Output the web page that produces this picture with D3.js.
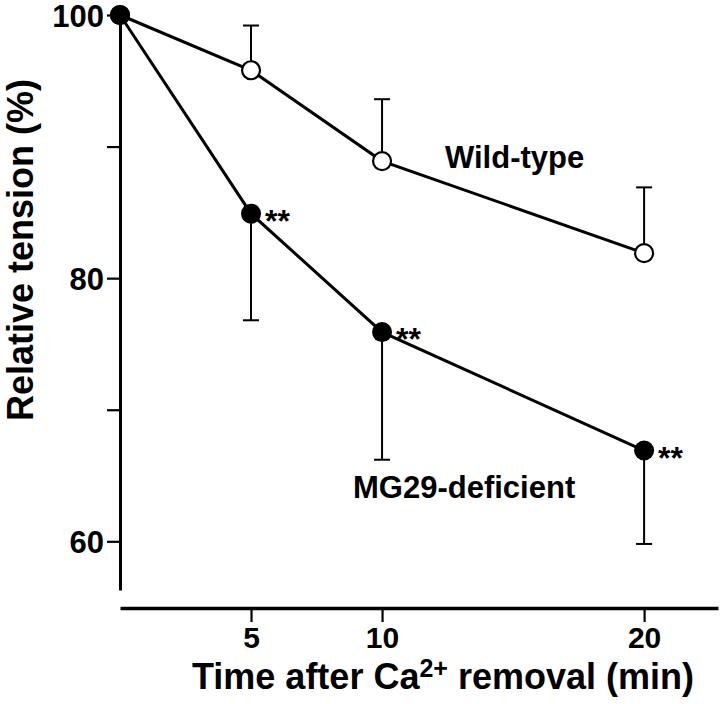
<!DOCTYPE html>
<html><head><meta charset="utf-8">
<script src="https://cdn.jsdelivr.net/npm/d3@7"></script>
<style>body{margin:0;background:#fff}svg{display:block}text{font-family:"Liberation Sans",Arial,Helvetica,sans-serif;font-weight:bold}</style>
</head><body>
<script>
const times = [0, 5, 10, 20];
const wildType = [100, 95.8, 88.9, 81.9];
const wildTypeErrTop = [null, 99.2, 93.6, 86.9];
const mg29 = [100, 84.9, 75.9, 66.9];
const mg29ErrBottom = [null, 76.8, 66.2, 59.8];
const mg29Sig = ["", "**", "**", "**"];
const yTicks = [60, 70, 80, 90, 100];
const yTickLabels = {60: "60", 80: "80", 100: "100"};
const xTicks = [5, 10, 20];

const W = 720, H = 704;
const svg = d3.select("body").append("svg").attr("width", W).attr("height", H);

const x = d3.scaleLinear().domain([0, 22.82]).range([120, 718]);
const y = d3.scaleLinear().domain([100, 56.3]).range([15, 590]);

// y axis
const ya = svg.append("g").attr("transform", "translate(120,0)")
  .call(d3.axisLeft(y).tickValues(yTicks).tickSize(13).tickSizeOuter(0).tickPadding(3)
    .tickFormat(d => yTickLabels[d] || ""));
ya.select(".domain").attr("stroke-width", 3).attr("stroke", "#000");
ya.selectAll(".tick line").attr("stroke-width", 2.2).attr("stroke", "#000");
ya.selectAll(".tick text").attr("font-size", 31).attr("fill", "#000")
  .attr("font-family", '"Liberation Sans",Arial,sans-serif').attr("font-weight", "bold").attr("dy", "0.37em");

// x axis
const xa = svg.append("g").attr("transform", "translate(0,608)")
  .call(d3.axisBottom(x).tickValues(xTicks).tickSize(14).tickSizeOuter(0).tickPadding(5));
xa.select(".domain").attr("stroke-width", 3.5).attr("stroke", "#000");
xa.selectAll(".tick line").attr("stroke-width", 2.2).attr("stroke", "#000");
xa.selectAll(".tick text").attr("font-size", 30).attr("fill", "#000")
  .attr("font-family", '"Liberation Sans",Arial,sans-serif').attr("font-weight", "bold");

// axis titles
const xt = svg.append("text").attr("x", 443).attr("y", 689).attr("text-anchor", "middle")
  .attr("font-size", 36).attr("fill", "#000");
xt.append("tspan").text("Time after Ca");
xt.append("tspan").text("2+").attr("font-size", 25).attr("dy", -12);
xt.append("tspan").text(" removal (min)").attr("dy", 12);

svg.append("text").attr("transform", "translate(33,250) rotate(-90)").attr("text-anchor", "middle")
  .attr("font-size", 36).attr("fill", "#000").text("Relative tension (%)");

// error bars
function errBars(vals, ends) {
  times.forEach((t, i) => {
    if (ends[i] == null) return;
    svg.append("line").attr("x1", x(t)).attr("x2", x(t)).attr("y1", y(vals[i])).attr("y2", y(ends[i]))
      .attr("stroke", "#000").attr("stroke-width", 2);
    svg.append("line").attr("x1", x(t) - 8).attr("x2", x(t) + 8).attr("y1", y(ends[i])).attr("y2", y(ends[i]))
      .attr("stroke", "#000").attr("stroke-width", 2);
  });
}
errBars(wildType, wildTypeErrTop);
errBars(mg29, mg29ErrBottom);

const line = d3.line().x((d, i) => x(times[i])).y(d => y(d));
svg.append("path").datum(wildType).attr("d", line).attr("fill", "none").attr("stroke", "#000").attr("stroke-width", 3);
svg.append("path").datum(mg29).attr("d", line).attr("fill", "none").attr("stroke", "#000").attr("stroke-width", 3);

svg.selectAll(".wt").data(wildType).enter().append("circle")
  .attr("cx", (d, i) => x(times[i])).attr("cy", d => y(d)).attr("r", 9)
  .attr("fill", "#fff").attr("stroke", "#000").attr("stroke-width", 2.2);
svg.selectAll(".mg").data(mg29).enter().append("circle")
  .attr("cx", (d, i) => x(times[i])).attr("cy", d => y(d)).attr("r", 10)
  .attr("fill", "#000");

svg.selectAll(".sig").data(mg29).enter().append("text")
  .attr("x", (d, i) => x(times[i]) + 14).attr("y", d => y(d) + 18)
  .attr("font-size", 32).attr("fill", "#000").text((d, i) => mg29Sig[i]);

svg.append("text").attr("x", 445).attr("y", 168).attr("font-size", 31).attr("fill", "#000").text("Wild-type");
svg.append("text").attr("x", 353).attr("y", 498).attr("font-size", 31).attr("fill", "#000").text("MG29-deficient");
</script>
</body></html>
